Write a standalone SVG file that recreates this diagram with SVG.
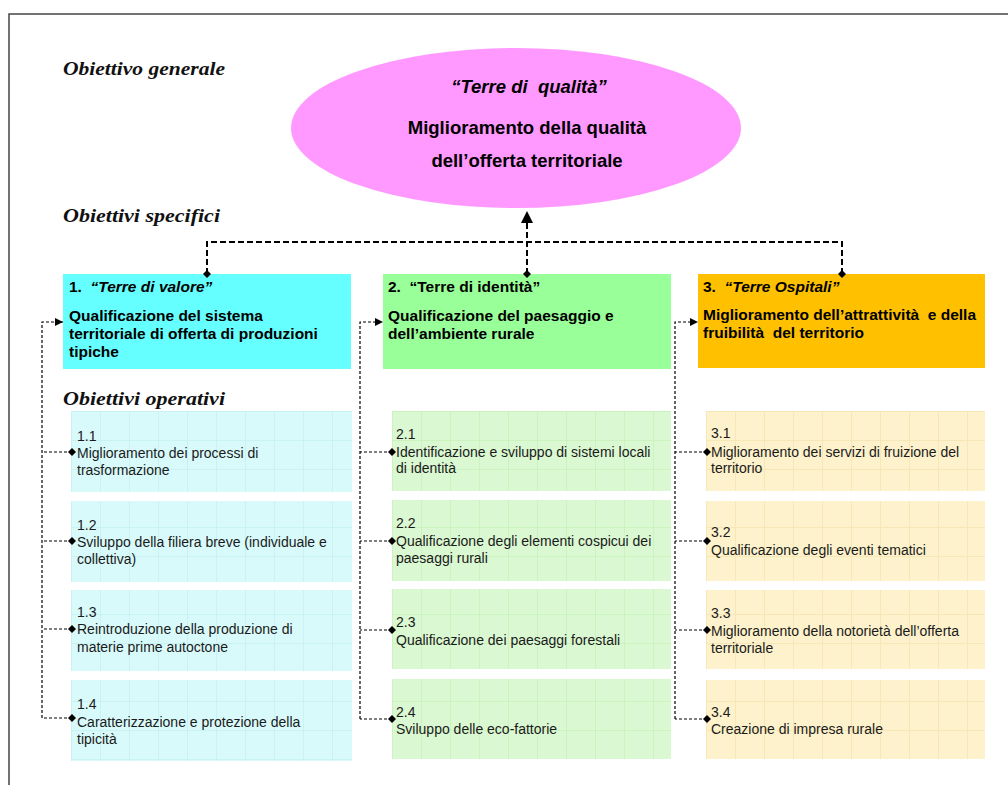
<svg xmlns="http://www.w3.org/2000/svg" width="1008" height="785" viewBox="0 0 1008 785">
<style>
.sec{font-family:"Liberation Serif","Times New Roman",serif;font-weight:bold;font-style:italic;font-size:18px;fill:#111}
.ell{font-family:"Liberation Sans",Arial,sans-serif;font-weight:bold;font-size:18.5px;fill:#000}
.hd{font-family:"Liberation Sans",Arial,sans-serif;font-weight:bold;font-size:15.5px;fill:#000}
.op{font-family:"Liberation Sans",Arial,sans-serif;font-size:14px;fill:#1a1a1a}
.it{font-style:italic}
.thick{fill:none;stroke:#000;stroke-width:2;stroke-dasharray:6 3}
.thin{fill:none;stroke:#000;stroke-width:1.2;stroke-dasharray:3 2}
</style>
<defs>
<pattern id="g1" width="29" height="29" patternUnits="userSpaceOnUse" x="71" y="411">
<rect width="29" height="29" fill="#D9FAFA"/><path d="M0,0.5H29M0.5,0V29" stroke="#C9F3F3" stroke-width="1"/>
</pattern>
<pattern id="g2" width="29" height="29" patternUnits="userSpaceOnUse" x="392" y="411">
<rect width="29" height="29" fill="#DAF8D2"/><path d="M0,0.5H29M0.5,0V29" stroke="#CAF3BE" stroke-width="1"/>
</pattern>
<pattern id="g3" width="29" height="29" patternUnits="userSpaceOnUse" x="706" y="411">
<rect width="29" height="29" fill="#FDF2CB"/><path d="M0,0.5H29M0.5,0V29" stroke="#F8E7B6" stroke-width="1"/>
</pattern>
<marker id="arrBig" markerUnits="userSpaceOnUse" markerWidth="12" markerHeight="12" refX="10" refY="5" orient="auto" viewBox="0 0 10 10">
<path d="M0,0 L10,5 L0,10 z" fill="#000"/>
</marker>
<marker id="arrSm" markerUnits="userSpaceOnUse" markerWidth="8" markerHeight="8" refX="10" refY="5" orient="auto" viewBox="0 0 10 10">
<path d="M0,0 L10,5 L0,10 z" fill="#000"/>
</marker>
<marker id="dia" markerUnits="userSpaceOnUse" markerWidth="8" markerHeight="8" refX="5" refY="5" orient="auto" viewBox="0 0 10 10">
<path d="M5,0 L10,5 L5,10 L0,5 z" fill="#000"/>
</marker>
</defs>

<rect x="9" y="14" width="1012" height="785" fill="#fff" stroke="#444" stroke-width="1.5"/>

<text class="sec" x="63" y="75" textLength="162" lengthAdjust="spacingAndGlyphs">Obiettivo generale</text>
<text class="sec" x="63" y="222" textLength="157" lengthAdjust="spacingAndGlyphs">Obiettivi specifici</text>
<text class="sec" x="63" y="405" textLength="162" lengthAdjust="spacingAndGlyphs">Obiettivi operativi</text>

<g id="goal">
<ellipse cx="516" cy="128" rx="225" ry="80" fill="#FF99FF"/>
<text class="ell it" x="529" y="93" text-anchor="middle">“Terre di&#160; qualità”</text>
<text class="ell" x="527" y="134" text-anchor="middle">Miglioramento della qualità</text>
<text class="ell" x="527" y="167" text-anchor="middle">dell’offerta territoriale</text>
</g>

<g id="spec1">
<rect x="63" y="274" width="288" height="95" fill="#66FFFF"/>
<text class="hd" x="69" y="292">1.&#160; <tspan class="it">“Terre di valore”</tspan></text>
<text class="hd" x="69" y="321">Qualificazione del sistema</text>
<text class="hd" x="69" y="339">territoriale di offerta di produzioni</text>
<text class="hd" x="69" y="357">tipiche</text>
</g>
<g id="spec2">
<rect x="383" y="274" width="288" height="95" fill="#99FF99"/>
<text class="hd" x="388" y="292">2.&#160; “Terre di identità”</text>
<text class="hd" x="388" y="321">Qualificazione del paesaggio e</text>
<text class="hd" x="388" y="339">dell’ambiente rurale</text>
</g>
<g id="spec3">
<rect x="698" y="274" width="287" height="94" fill="#FFC000"/>
<text class="hd" x="703" y="292">3.&#160; <tspan class="it">“Terre Ospitali”</tspan></text>
<text class="hd" x="703" y="320">Miglioramento dell’attrattività&#160; e della</text>
<text class="hd" x="703" y="338">fruibilità&#160; del territorio</text>
</g>

<g id="op11"><rect x="71" y="411" width="281" height="81" fill="url(#g1)"/>
<text class="op" x="77" y="441">1.1</text><text class="op" x="77" y="458">Miglioramento dei processi di</text><text class="op" x="77" y="475">trasformazione</text></g>
<g id="op12"><rect x="71" y="501" width="281" height="81" fill="url(#g1)"/>
<text class="op" x="77" y="530">1.2</text><text class="op" x="77" y="547">Sviluppo della filiera breve (individuale e</text><text class="op" x="77" y="564">collettiva)</text></g>
<g id="op13"><rect x="71" y="590" width="281" height="81" fill="url(#g1)"/>
<text class="op" x="77" y="617">1.3</text><text class="op" x="77" y="634">Reintroduzione della produzione di</text><text class="op" x="77" y="652">materie prime autoctone</text></g>
<g id="op14"><rect x="71" y="680" width="281" height="81" fill="url(#g1)"/>
<text class="op" x="77" y="709">1.4</text><text class="op" x="77" y="727">Caratterizzazione e protezione della</text><text class="op" x="77" y="744">tipicità</text></g>

<g id="op21"><rect x="392" y="411" width="279" height="80" fill="url(#g2)"/>
<text class="op" x="396" y="439">2.1</text><text class="op" x="396" y="457">Identificazione e sviluppo di sistemi locali</text><text class="op" x="396" y="473">di identità</text></g>
<g id="op22"><rect x="392" y="500" width="279" height="81" fill="url(#g2)"/>
<text class="op" x="396" y="528">2.2</text><text class="op" x="396" y="546">Qualificazione degli elementi cospicui dei</text><text class="op" x="396" y="563">paesaggi rurali</text></g>
<g id="op23"><rect x="392" y="589" width="279" height="80" fill="url(#g2)"/>
<text class="op" x="396" y="627">2.3</text><text class="op" x="396" y="645">Qualificazione dei paesaggi forestali</text></g>
<g id="op24"><rect x="392" y="679" width="279" height="80" fill="url(#g2)"/>
<text class="op" x="396" y="717">2.4</text><text class="op" x="396" y="734">Sviluppo delle eco-fattorie</text></g>

<g id="op31"><rect x="706" y="411" width="279" height="80" fill="url(#g3)"/>
<text class="op" x="711" y="438">3.1</text><text class="op" x="711" y="457">Miglioramento dei servizi di fruizione del</text><text class="op" x="711" y="473">territorio</text></g>
<g id="op32"><rect x="706" y="501" width="279" height="80" fill="url(#g3)"/>
<text class="op" x="711" y="537">3.2</text><text class="op" x="711" y="555">Qualificazione degli eventi tematici</text></g>
<g id="op33"><rect x="706" y="590" width="279" height="79" fill="url(#g3)"/>
<text class="op" x="711" y="618">3.3</text><text class="op" x="711" y="636">Miglioramento della notorietà dell’offerta</text><text class="op" x="711" y="653">territoriale</text></g>
<g id="op34"><rect x="706" y="680" width="279" height="79" fill="url(#g3)"/>
<text class="op" x="711" y="717">3.4</text><text class="op" x="711" y="734">Creazione di impresa rurale</text></g>

<g id="connectors">
<path class="thick" d="M527,274 V211" marker-start="url(#dia)" marker-end="url(#arrBig)"/>
<path class="thick" d="M207,274 V242 H842 V274" marker-start="url(#dia)" marker-end="url(#dia)"/>

<path class="thin" d="M42,718 V322 H63" marker-end="url(#arrSm)"/>
<path class="thin" d="M72,452 H42" marker-start="url(#dia)"/>
<path class="thin" d="M72,541 H42" marker-start="url(#dia)"/>
<path class="thin" d="M72,629 H42" marker-start="url(#dia)"/>
<path class="thin" d="M72,718 H42" marker-start="url(#dia)"/>

<path class="thin" d="M360,719 V322 H383" marker-end="url(#arrSm)"/>
<path class="thin" d="M392,452 H360" marker-start="url(#dia)"/>
<path class="thin" d="M392,541 H360" marker-start="url(#dia)"/>
<path class="thin" d="M392,630 H360" marker-start="url(#dia)"/>
<path class="thin" d="M392,719 H360" marker-start="url(#dia)"/>

<path class="thin" d="M675,719 V322 H698" marker-end="url(#arrSm)"/>
<path class="thin" d="M707,452 H675" marker-start="url(#dia)"/>
<path class="thin" d="M707,541 H675" marker-start="url(#dia)"/>
<path class="thin" d="M707,630 H675" marker-start="url(#dia)"/>
<path class="thin" d="M707,719 H675" marker-start="url(#dia)"/>
</g>
</svg>
